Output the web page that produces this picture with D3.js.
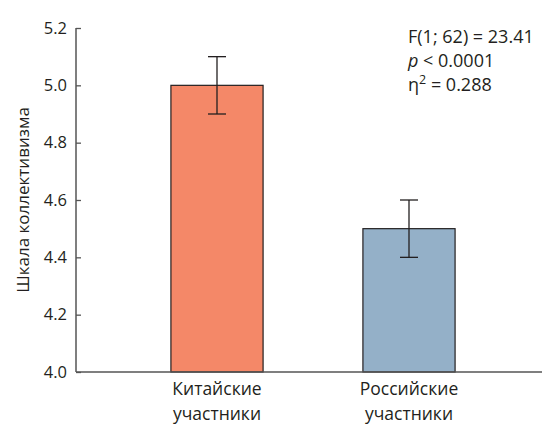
<!DOCTYPE html>
<html>
<head>
<meta charset="utf-8">
<script src="https://cdn.jsdelivr.net/npm/d3@7"></script>
<style>
  body { margin: 0; background: #fff; }
  text { font-family: "Open Sans", sans-serif; fill: #231f20; }
</style>
</head>
<body>
<div id="chart"></div>
<script>

// data
const groups = ['Китайские участники', 'Российские участники'];
const means = [5.0, 4.5];
const errs = [0.1, 0.1];
const colors = ['#f48868', '#94b0c8'];
const yTicks = [4.0, 4.2, 4.4, 4.6, 4.8, 5.0, 5.2];
const statLines = ['F(1; 62) = 23.41', 'p < 0.0001', 'η2 = 0.288'];

const W = 543, H = 425;
const axisColor = '#555';

const svg = d3.select('#chart')
    .append('svg')
    .attr('width', W)
    .attr('height', H);

// scales
var y = d3.scaleLinear()
    .domain([4.0, 5.2])
    .range([372, 28]);

var x = d3.scaleBand()
    .domain(groups)
    .range([121, 505])
    .paddingInner(0.52)
    .paddingOuter(0.26);

// Y axis
const yAxis = d3.axisLeft(y)
    .tickValues(yTicks)
    .tickFormat(d3.format('.1f'))
    .tickSize(-5)
    .tickPadding(9);

svg.append('g')
    .attr('class', 'y axis')
    .attr('transform', 'translate(76,0)')
    .call(yAxis)
    .call(g => g.select('.domain').remove())
    .call(g => g.selectAll('line').attr('stroke', axisColor).attr('stroke-width', 1.3))
    .selectAll('text')
    .style('font-size', '16.5px')
    .style('fill', '#231f20');

svg.append('line')
    .attr('x1', 76).attr('x2', 76)
    .attr('y1', y(5.2)).attr('y2', y(4.0))
    .attr('stroke', axisColor)
    .attr('stroke-width', 1.5);

// bars
svg.selectAll('.bar')
    .data(groups)
    .enter().append('rect')
    .attr('class', 'bar')
    .attr('x', d => x(d))
    .attr('width', x.bandwidth())
    .attr('y', (d, i) => y(means[i]))
    .attr('height', (d, i) => y(4.0) - y(means[i]))
    .style('fill', (d, i) => colors[i])
    .style('stroke', '#231f20')
    .style('stroke-width', 1.2);

// x axis baseline
svg.append('line')
    .attr('x1', 76).attr('x2', 542)
    .attr('y1', y(4.0)).attr('y2', y(4.0))
    .attr('stroke', axisColor)
    .attr('stroke-width', 1.5);

// error bars
const eb = svg.selectAll('.err')
    .data(groups)
    .enter().append('g')
    .attr('class', 'err')
    .attr('transform', d => `translate(${x(d) + x.bandwidth() / 2},0)`);

eb.append('line')
    .attr('y1', (d, i) => y(means[i] - errs[i]))
    .attr('y2', (d, i) => y(means[i] + errs[i]))
    .attr('stroke', '#231f20').attr('stroke-width', 1.3);

[-1, 1].forEach(s => {
    eb.append('line')
        .attr('x1', -9).attr('x2', 9)
        .attr('y1', (d, i) => y(means[i] + s * errs[i]))
        .attr('y2', (d, i) => y(means[i] + s * errs[i]))
        .attr('stroke', '#231f20').attr('stroke-width', 1.3);
});

// category labels (two lines)
const cat = svg.selectAll('.cat')
    .data(groups)
    .enter().append('text')
    .attr('class', 'cat')
    .attr('text-anchor', 'middle')
    .style('font-size', '17.5px');

cat.selectAll('tspan')
    .data(d => d.split(' ').map(w => ({ w, c: x(d) + x.bandwidth() / 2 })))
    .enter().append('tspan')
    .attr('x', t => t.c)
    .attr('y', (t, i) => 395 + i * 25)
    .text(t => t.w);

// y label
svg.append('text')
    .attr('transform', `translate(29,${(y(4.0) + y(5.2)) / 2}) rotate(-90)`)
    .attr('text-anchor', 'middle')
    .style('font-size', '17px')
    .text('Шкала коллективизма');

// stats
const fs = '18px';
const st = svg.append('g').attr('transform', 'translate(408,0)');
st.append('text').attr('y', 43).style('font-size', fs).text(statLines[0]);
const p = st.append('text').attr('y', 67).style('font-size', fs);
p.append('tspan').style('font-style', 'italic').text(statLines[1].split(' ')[0]);
p.append('tspan').text(' ' + statLines[1].split(' ').slice(1).join(' '));
const eta = st.append('text').attr('y', 91).style('font-size', fs);
eta.append('tspan').text('η');
eta.append('tspan').attr('dy', -7).style('font-size', '12.5px').text('2');
eta.append('tspan').attr('dy', 7).text(' ' + statLines[2].split(' ').slice(1).join(' '));

</script>
</body>
</html>
